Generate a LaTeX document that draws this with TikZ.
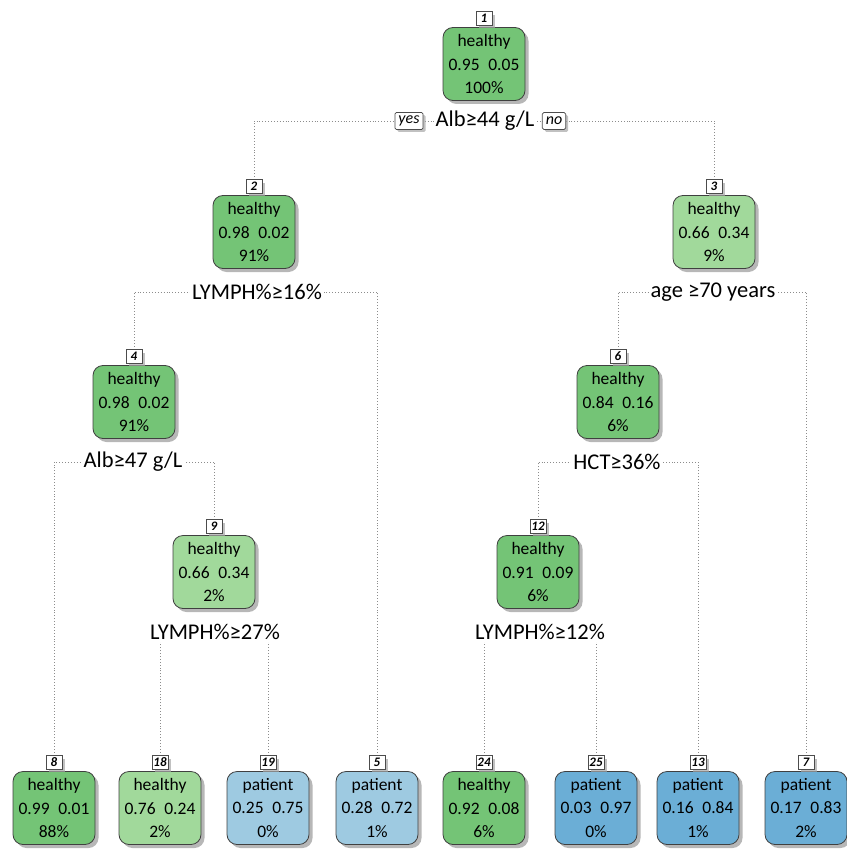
\documentclass[tikz,border=0pt]{standalone}
\usepackage{fontspec}
\setmainfont{Carlito}
\usetikzlibrary{shadows,positioning}
\definecolor{gdark}{HTML}{74C476}
\definecolor{glight}{HTML}{A1D99B}
\definecolor{blight}{HTML}{9ECAE1}
\definecolor{bdark}{HTML}{6BAED6}
\pgfdeclarelayer{bg}
\pgfsetlayers{bg,main}
\begin{document}
\begin{tikzpicture}[x=1pt,y=-1pt,
  box/.style={draw=black!75, line width=0.8pt, rounded corners=10pt,
    minimum width=82pt, minimum height=73pt, align=center, inner sep=0pt,
    font=\fontsize{17.5}{23.5}\selectfont,
    drop shadow={shadow xshift=3.5pt, shadow yshift=-3.5pt, fill=black!40, opacity=0.7}},
  tag/.style={draw=black!70, fill=white, line width=0.7pt,
    font=\fontsize{13}{13}\selectfont\itshape\bfseries, inner sep=0pt,
    minimum width=16pt, minimum height=13.5pt, text depth=0pt,
    drop shadow={shadow xshift=3pt, shadow yshift=-3pt, fill=black!35, opacity=0.7}},
  split/.style={fill=white, inner sep=2pt, font=\fontsize{22.5}{22.5}\selectfont},
  yn/.style={draw=black!70, fill=white, line width=0.7pt, rounded corners=1.5pt,
    font=\fontsize{16}{16}\selectfont\itshape, inner xsep=3.5pt, inner ysep=1.5pt,
    minimum height=17pt,
    drop shadow={shadow xshift=2.5pt, shadow yshift=-2.5pt, fill=black!35, opacity=0.7}},
  edge/.style={draw=black!45, dotted, line width=0.9pt}
]
\useasboundingbox (0,0) rectangle (846,856);

% internal nodes
\node[box, fill=gdark] (n1) at (484,64) {healthy\\0.95\enspace 0.05\\100\%};
\node[box, fill=gdark] (n2) at (254,232) {healthy\\0.98\enspace 0.02\\91\%};
\node[box, fill=glight] (n3) at (714,232) {healthy\\0.66\enspace 0.34\\9\%};
\node[box, fill=gdark] (n4) at (134,402) {healthy\\0.98\enspace 0.02\\91\%};
\node[box, fill=gdark] (n6) at (618,402) {healthy\\0.84\enspace 0.16\\6\%};
\node[box, fill=glight] (n9) at (214,572) {healthy\\0.66\enspace 0.34\\2\%};
\node[box, fill=gdark] (n12) at (538,572) {healthy\\0.91\enspace 0.09\\6\%};
% leaves
\node[box, fill=gdark] (n8) at (54,808) {healthy\\0.99\enspace 0.01\\88\%};
\node[box, fill=glight] (n18) at (160,808) {healthy\\0.76\enspace 0.24\\2\%};
\node[box, fill=blight] (n19) at (268,808) {patient\\0.25\enspace 0.75\\0\%};
\node[box, fill=blight] (n5) at (377,808) {patient\\0.28\enspace 0.72\\1\%};
\node[box, fill=gdark] (n24) at (484,808) {healthy\\0.92\enspace 0.08\\6\%};
\node[box, fill=bdark] (n25) at (596,808) {patient\\0.03\enspace 0.97\\0\%};
\node[box, fill=bdark] (n13) at (698,808) {patient\\0.16\enspace 0.84\\1\%};
\node[box, fill=bdark] (n7) at (806,808) {patient\\0.17\enspace 0.83\\2\%};

% number tags
\foreach \n in {1,2,3,4,6,9,12,8,18,19,5,24,25,13,7}{
  \node[tag, above=1.5pt of n\n] (t\n) {\n};
}

% split labels
\node[split] (s1) at (485,121) {Alb≥44 g/L};
\node[split] (s2) at (257,292) {LYMPH\%≥16\%};
\node[split] (s3) at (713,292) {age ≥70 years};
\node[split] (s4) at (133,462) {Alb≥47 g/L};
\node[split] (s6) at (617,462) {HCT≥36\%};
\node[split] (s9) at (215,632) {LYMPH\%≥27\%};
\node[split] (s12) at (540,632) {LYMPH\%≥12\%};
\node[yn] (yes) at (409,121) {yes};
\node[yn] (no) at (554,121) {no};

% connectors
\begin{pgfonlayer}{bg}
\draw[edge] (t2.north) |- (s1);
\draw[edge] (t3.north) |- (s1);
\draw[edge] (t4.north) |- (s2);
\draw[edge] (t5.north) |- (s2);
\draw[edge] (t6.north) |- (s3);
\draw[edge] (t7.north) |- (s3);
\draw[edge] (t8.north) |- (s4);
\draw[edge] (t9.north) |- (s4);
\draw[edge] (t12.north) |- (s6);
\draw[edge] (t13.north) |- (s6);
\draw[edge] (t18.north) |- (s9);
\draw[edge] (t19.north) |- (s9);
\draw[edge] (t24.north) |- (s12);
\draw[edge] (t25.north) |- (s12);
\end{pgfonlayer}
\end{tikzpicture}
\end{document}
